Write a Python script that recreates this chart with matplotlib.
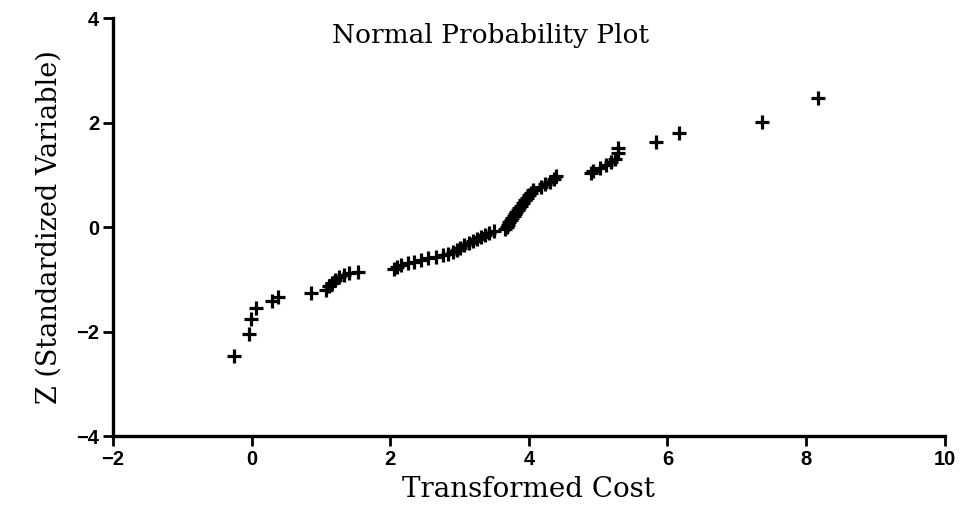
import matplotlib
matplotlib.use("Agg")
import matplotlib.pyplot as plt

# Transformed cost values and their standardized normal scores
cost = [-0.25, -0.04, -0.01, 0.06, 0.30, 0.38, 0.85,
        1.08, 1.12, 1.16, 1.20, 1.26, 1.33, 1.40, 1.53,
        2.05, 2.10, 2.16, 2.25, 2.34, 2.44, 2.55, 2.66, 2.76, 2.84, 2.90,
        2.96, 3.01, 3.07, 3.13, 3.19, 3.25, 3.31, 3.37, 3.43, 3.49,
        3.66, 3.68, 3.70, 3.72, 3.74, 3.76, 3.78, 3.80, 3.82, 3.84, 3.86,
        3.88, 3.91, 3.94, 3.97, 4.00, 4.03, 4.06, 4.18, 4.24, 4.30, 4.36, 4.39,
        4.89, 4.93, 5.03, 5.11, 5.18, 5.25, 5.28, 5.29,
        5.83, 6.17, 7.37, 8.17]
zscore = [-2.47, -2.05, -1.76, -1.55, -1.42, -1.34, -1.26,
          -1.20, -1.13, -1.07, -1.01, -0.96, -0.92, -0.88, -0.85,
          -0.81, -0.77, -0.73, -0.69, -0.66, -0.63, -0.60, -0.57, -0.54, -0.51, -0.47,
          -0.43, -0.39, -0.35, -0.31, -0.27, -0.23, -0.19, -0.15, -0.11, -0.07,
          -0.03, 0.01, 0.05, 0.09, 0.13, 0.17, 0.21, 0.25, 0.29, 0.33, 0.37,
          0.41, 0.46, 0.51, 0.56, 0.61, 0.66, 0.72, 0.77, 0.82, 0.87, 0.92, 0.98,
          1.03, 1.08, 1.14, 1.19, 1.24, 1.31, 1.41, 1.51,
          1.62, 1.80, 2.02, 2.47]

x_ticks = [-2, 0, 2, 4, 6, 8, 10]
y_ticks = [-4, -2, 0, 2, 4]

fig = plt.figure(figsize=(9.62, 5.18), dpi=100)
ax = fig.add_axes([0.1175, 0.158, 0.8645, 0.807])

ax.plot(cost, zscore, linestyle="none", marker="+", markersize=9.5,
        markeredgewidth=2.3, color="black")

ax.set_xlim(-2, 10)
ax.set_ylim(-4, 4)
ax.set_xticks(x_ticks)
ax.set_yticks(y_ticks)
ax.set_xticklabels([f"{t:d}".replace("-", "\u2212") for t in x_ticks],
                   fontfamily="Liberation Sans", fontweight="bold", fontsize=14.5)
ax.set_yticklabels([f"{t:d}".replace("-", "\u2212") for t in y_ticks],
                   fontfamily="Liberation Sans", fontweight="bold", fontsize=14.5)

for side in ("top", "right"):
    ax.spines[side].set_visible(False)
for side in ("left", "bottom"):
    ax.spines[side].set_linewidth(2.4)
ax.tick_params(direction="out", length=7, width=2, pad=3)

ax.set_xlabel("Transformed Cost", fontfamily="DejaVu Serif", fontsize=20, labelpad=5)
ax.set_ylabel("Z (Standardized Variable)", fontfamily="DejaVu Serif", fontsize=19.5, labelpad=10)

fig.text(491 / 962, 1 - 36 / 518, "Normal Probability Plot", ha="center", va="center",
         fontfamily="DejaVu Serif", fontsize=19)

fig.savefig("out.png", dpi=100, facecolor="white")
